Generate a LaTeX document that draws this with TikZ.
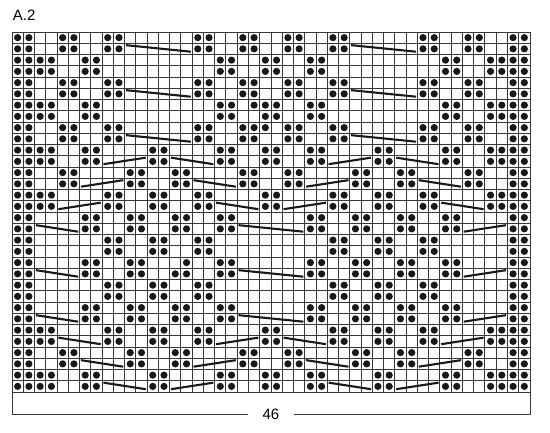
\documentclass[tikz,border=0pt]{standalone}
\usepackage{xcolor}
\usepackage{fontspec}
\setmainfont{Liberation Sans}
\usepackage{tikz}
\usetikzlibrary{positioning}

\tikzset{
    gridline/.style={black!78, line width=0.9pt},
    cable/.style={black!90, line width=2.1pt},
    purl/.style={fill=black!90},
}

\begin{document}
\begin{tikzpicture}[x=11.26pt, y=-11.25pt]
    \useasboundingbox (-12pt,32pt) rectangle (538pt,-400pt);

    % Title
    \node[anchor=base west, inner sep=0pt, font=\fontsize{15}{18}\selectfont] (title) at (0.06,-1.0) {A.2};

    % Grid
    \fill[white] (0,0) rectangle (46,32);
    \foreach \c in {0,...,46} {
        \draw[gridline] (\c,0) -- (\c,32);
    }
    \foreach \r in {0,...,32} {
        \draw[gridline] (0,\r) -- (46,\r);
    }

    % Cables, left end high
    \foreach \r/\a/\b in {2/11/16, 2/31/36, 6/11/16, 6/31/36, 10/11/16, 10/31/36,
            12/15/18, 12/35/38, 14/17/20, 14/37/40, 16/19/22, 16/39/42,
            18/3/6, 18/21/26, 22/3/6, 22/21/26, 26/3/6, 26/21/26,
            28/5/8, 28/25/28, 30/7/10, 30/27/30, 32/9/12, 32/29/32} {
        \draw[cable] (\a-0.88,\r-0.83) -- (\b-0.12,\r-0.25);
    }
    % Cables, left end low
    \foreach \r/\a/\b in {12/9/12, 12/29/32, 14/7/10, 14/27/30, 16/5/8, 16/25/28,
            18/41/44, 22/41/44, 26/41/44,
            28/19/22, 28/39/42, 30/17/20, 30/37/40, 32/15/18, 32/35/38} {
        \draw[cable] (\a-0.88,\r-0.25) -- (\b-0.12,\r-0.83);
    }

    % Purl stitches, row by row from the top
    \foreach \r/\cols in {
            1/{1,2,5,6,9,10,17,18,21,22,25,26,29,30,37,38,41,42,45,46},
            2/{1,2,5,6,9,10,17,18,21,22,25,26,29,30,37,38,41,42,45,46},
            3/{1,2,3,4,7,8,19,20,23,24,27,28,39,40,43,44,45,46},
            4/{1,2,3,4,7,8,19,20,23,24,27,28,39,40,43,44,45,46},
            5/{1,2,5,6,9,10,17,18,21,22,25,26,29,30,37,38,41,42,45,46},
            6/{1,2,5,6,9,10,17,18,21,22,25,26,29,30,37,38,41,42,45,46},
            7/{1,2,3,4,7,8,19,20,22,23,24,27,28,39,40,43,44,45,46},
            8/{1,2,3,4,7,8,19,20,23,24,27,28,39,40,43,44,45,46},
            9/{1,2,5,6,9,10,17,18,21,22,23,25,26,29,30,37,38,41,42,45,46},
            10/{1,2,5,6,9,10,17,18,21,22,25,26,29,30,37,38,41,42,45,46},
            11/{1,2,3,4,7,8,13,14,19,20,23,24,27,28,33,34,39,40,43,44,45,46},
            12/{1,2,3,4,7,8,13,14,19,20,23,24,27,28,33,34,39,40,43,44,45,46},
            13/{1,2,5,6,11,12,15,16,21,22,25,26,31,32,35,36,41,42,45,46},
            14/{1,2,5,6,11,12,15,16,21,22,25,26,31,32,35,36,41,42,45,46},
            15/{1,2,3,4,9,10,13,14,17,18,23,24,29,30,33,34,37,38,43,44,45,46},
            16/{1,2,3,4,9,10,13,14,17,18,23,24,29,30,33,34,37,38,43,44,45,46},
            17/{1,2,7,8,11,12,15,16,19,20,27,28,31,32,35,36,39,40,45,46},
            18/{1,2,7,8,11,12,15,16,19,20,27,28,31,32,35,36,39,40,45,46},
            19/{1,2,9,10,13,14,17,18,29,30,33,34,37,38,45,46},
            20/{1,2,9,10,13,14,17,18,29,30,33,34,37,38,45,46},
            21/{1,2,7,8,11,12,16,19,20,27,28,31,32,35,36,39,40,45,46},
            22/{1,2,7,8,11,12,15,16,19,20,27,28,31,32,35,36,39,40,45,46},
            23/{1,2,9,10,13,14,17,18,29,30,33,34,37,38,45,46},
            24/{1,2,9,10,13,14,17,18,29,30,33,34,37,38,45,46},
            25/{1,2,7,8,11,12,15,16,19,20,27,28,31,32,35,36,39,40,45,46},
            26/{1,2,7,8,11,12,15,16,19,20,27,28,31,32,35,36,39,40,45,46},
            27/{1,2,3,4,9,10,13,14,17,18,23,24,29,30,33,34,37,38,43,44,45,46},
            28/{1,2,3,4,9,10,13,14,17,18,23,24,29,30,33,34,37,38,43,44,45,46},
            29/{1,2,5,6,11,12,15,16,21,22,25,26,31,32,35,36,41,42,45,46},
            30/{1,2,5,6,11,12,15,16,21,22,25,26,31,32,35,36,41,42,45,46},
            31/{1,2,3,4,7,8,13,14,19,20,23,24,27,28,33,34,39,40,43,44,45,46},
            32/{1,2,3,4,7,8,13,14,19,20,23,24,27,28,33,34,39,40,43,44,45,46}} {
        \foreach \c in \cols {
            \fill[purl] (\c-0.5,\r-0.5) circle (3.6pt);
        }
    }

    % Width bracket
    \node[font=\fontsize{15}{18}\selectfont, minimum width=45pt, inner sep=0pt] (width) at (23,34) {46};
    \draw[gridline] (width.west) -- (0,34) -- (0,32);
    \draw[gridline] (width.east) -- (46,34) -- (46,32);
\end{tikzpicture}
\end{document}
